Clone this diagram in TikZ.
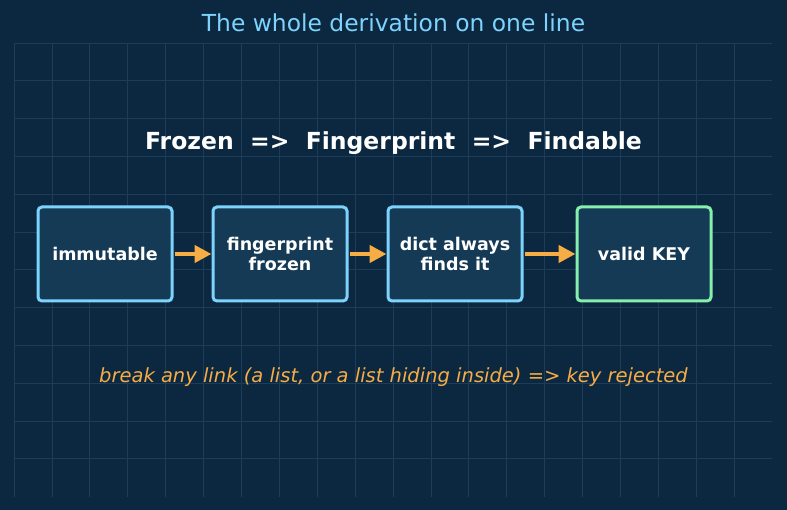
\documentclass[tikz,border=0pt]{standalone}
\usepackage{fontspec}
\setmainfont{DejaVu Sans}
\usepackage{tikz}
\usetikzlibrary{arrows.meta, positioning}
\usepackage{xcolor}
\definecolor{nightbg}{HTML}{0C2841}
\definecolor{gridline}{HTML}{1C3D5A}
\definecolor{boxfill}{HTML}{143A56}
\definecolor{skyline}{HTML}{7DD3FC}
\definecolor{mint}{HTML}{86EFAC}
\definecolor{amber}{HTML}{F6AD45}

\begin{document}
\begin{tikzpicture}[
  x=1pt, y=-1pt,
  stage/.style={rectangle, rounded corners=4pt, minimum width=134pt,
    minimum height=94pt, draw=skyline, line width=3pt, fill=boxfill,
    text=white, align=center, inner sep=2pt,
    font=\fontsize{17.5}{20}\selectfont\bfseries},
  arr/.style={-{Triangle[length=17pt,width=17pt]}, line width=4.5pt, amber,
    shorten <=1pt},
  node distance=38pt,
]
  \fill[nightbg] (0,0) rectangle (787,510);
  \useasboundingbox (0,0) rectangle (787,510);
  % grid
  \foreach \i in {0,...,19}
    \draw[gridline, line width=0.8pt] (14+37.9*\i,43) -- (14+37.9*\i,497);
  \foreach \j in {0,...,11}
    \draw[gridline, line width=0.8pt] (14,43+37.8*\j) -- (772,43+37.8*\j);

  \node[anchor=base, text=skyline, font=\fontsize{23.4}{28}\selectfont]
    (title) at (393.5,32) {The whole derivation on one line};
  \node[anchor=base, text=white, font=\fontsize{23.5}{28}\selectfont\bfseries]
    (chain) at (393.5,150) {Frozen\ \ =>\ \ Fingerprint\ \ =>\ \ Findable};

  \node[stage] (immut) at (105,254) {immutable};
  \node[stage, right=of immut] (fprint) {fingerprint\\frozen};
  \node[stage, right=of fprint] (lookup) {dict always\\finds it};
  \node[stage, draw=mint, right=52pt of lookup] (validkey) {valid KEY};

  \draw[arr] (immut) -- (fprint);
  \draw[arr] (fprint) -- (lookup);
  \draw[arr] (lookup) -- (validkey);

  \node[anchor=base, text=amber, font=\fontsize{19.5}{24}\selectfont\itshape]
    (caveat) at (393.5,383)
    {break any link (a list, or a list hiding inside) => key rejected};
\end{tikzpicture}
\end{document}
